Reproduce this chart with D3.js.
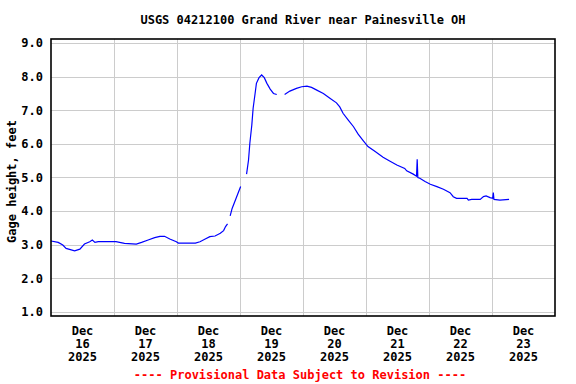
<!DOCTYPE html>
<html>
<head>
<meta charset="utf-8">
<script src="https://cdn.jsdelivr.net/npm/d3@7"></script>
<style>
  body { margin: 0; background: #fff; }
  text { font-family: "DejaVu Sans Mono", "Liberation Mono", monospace; font-weight: bold; }
</style>
</head>
<body>
<div id="chart"></div>
<script>
var width = 576,
	height = 384;

var title = "USGS 04212100 Grand River near Painesville OH";
var yLabel = "Gage height, feet";
var footer = "---- Provisional Data Subject to Revision ----";

// gage readings (null = gap in record)
var times = [
	"2025-12-16 00:00","2025-12-16 02:45","2025-12-16 04:30","2025-12-16 05:45","2025-12-16 09:00",
	"2025-12-16 11:00","2025-12-16 12:45","2025-12-16 14:45","2025-12-16 15:45","2025-12-16 16:45",
	"2025-12-16 18:00","2025-12-17 00:45","2025-12-17 04:00","2025-12-17 08:30","2025-12-17 10:30",
	"2025-12-17 13:00","2025-12-17 15:30","2025-12-17 17:30","2025-12-17 19:15","2025-12-17 21:15",
	"2025-12-17 23:45","2025-12-18 00:30","2025-12-18 07:00","2025-12-18 08:45","2025-12-18 10:45",
	"2025-12-18 12:30","2025-12-18 14:30","2025-12-18 16:30","2025-12-18 17:45","2025-12-18 18:30",
	"2025-12-18 19:15","2025-12-18 19:45","2025-12-18 20:15","2025-12-18 21:00","2025-12-18 22:00",
	"2025-12-18 23:15","2025-12-19 00:15","2025-12-19 01:15","2025-12-19 02:30","2025-12-19 03:15",
	"2025-12-19 03:45","2025-12-19 04:30","2025-12-19 05:00","2025-12-19 05:45","2025-12-19 06:15",
	"2025-12-19 07:15","2025-12-19 08:15","2025-12-19 09:15","2025-12-19 10:15","2025-12-19 11:30",
	"2025-12-19 12:45","2025-12-19 14:00","2025-12-19 15:30","2025-12-19 17:00","2025-12-19 19:00",
	"2025-12-19 21:30","2025-12-19 23:30","2025-12-20 01:30","2025-12-20 03:15","2025-12-20 05:15",
	"2025-12-20 07:45","2025-12-20 10:15","2025-12-20 12:45","2025-12-20 14:00","2025-12-20 15:15",
	"2025-12-20 17:15","2025-12-20 19:15","2025-12-20 21:00","2025-12-20 23:00","2025-12-21 00:45",
	"2025-12-21 03:30","2025-12-21 06:30","2025-12-21 09:00","2025-12-21 11:45","2025-12-21 14:45",
	"2025-12-21 15:30","2025-12-21 18:00","2025-12-21 19:15","2025-12-21 19:30","2025-12-21 19:45",
	"2025-12-21 20:30","2025-12-21 22:30","2025-12-22 00:30","2025-12-22 03:00","2025-12-22 05:30",
	"2025-12-22 08:00","2025-12-22 09:15","2025-12-22 10:30","2025-12-22 14:30","2025-12-22 15:00",
	"2025-12-22 16:15","2025-12-22 19:30","2025-12-22 20:45","2025-12-22 21:45","2025-12-22 23:15",
	"2025-12-23 00:15","2025-12-23 00:30","2025-12-23 00:45","2025-12-23 03:00","2025-12-23 06:30"
];
var gage = [
	3.11,3.07,2.99,2.89,2.82,
	2.87,3.02,3.09,3.14,3.07,
	3.09,3.09,3.04,3.02,3.07,
	3.14,3.21,3.25,3.25,3.17,
	3.09,3.05,3.05,3.09,3.17,
	3.24,3.26,3.34,3.42,3.54,
	3.62,null,3.86,4.08,4.28,
	4.53,4.73,null,5.10,5.52,
	6.02,6.56,7.06,7.50,7.80,
	7.97,8.05,7.97,7.80,7.63,
	7.50,7.47,null,7.47,7.57,
	7.65,7.70,7.72,7.68,7.60,
	7.50,7.36,7.22,7.10,6.91,
	6.71,6.51,6.29,6.09,5.92,
	5.77,5.60,5.49,5.37,5.27,
	5.20,5.10,5.04,5.54,5.00,
	4.98,4.88,4.80,4.73,4.65,
	4.55,4.43,4.38,4.38,4.33,
	4.35,4.35,4.43,4.45,4.40,
	4.38,4.55,4.35,4.33,4.35
];

var yTicks = [1, 2, 3, 4, 5, 6, 7, 8, 9];
var dayTicks = ["2025-12-16","2025-12-17","2025-12-18","2025-12-19","2025-12-20","2025-12-21","2025-12-22","2025-12-23"];

var parseTime = d3.timeParse("%Y-%m-%d %H:%M"),
	parseDay = d3.timeParse("%Y-%m-%d");

var data = times.map(function(t, i){ return {t: parseTime(t), v: gage[i]}; });

var pLeft = 51, pRight = 555, pTop = 39, pBottom = 316;

var x = d3.scaleTime()
	.domain([parseDay("2025-12-16"), parseDay("2025-12-24")])
	.range([pLeft, pRight]);
var y = d3.scaleLinear()
	.domain([0.88, 9.12])
	.range([pBottom, pTop]);

var svg = d3.select("#chart").append("svg")
	.attr("width", width)
	.attr("height", height);

// grid
svg.append("g").selectAll("line")
	.data(yTicks).enter().append("line")
	.attr("x1", pLeft).attr("x2", pRight)
	.attr("y1", function(d){ return Math.round(y(d)) + 0.5; })
	.attr("y2", function(d){ return Math.round(y(d)) + 0.5; })
	.attr("stroke", "#cccccc");

var midnights = d3.timeDay.range(parseDay("2025-12-17"), parseDay("2025-12-24"));
svg.append("g").selectAll("line")
	.data(midnights).enter().append("line")
	.attr("y1", pTop).attr("y2", pBottom)
	.attr("x1", function(d){ return Math.round(x(d)) + 0.5; })
	.attr("x2", function(d){ return Math.round(x(d)) + 0.5; })
	.attr("stroke", "#cccccc");

// data line
var line = d3.line()
	.defined(function(d){ return d.v !== null; })
	.x(function(d){ return x(d.t); })
	.y(function(d){ return y(d.v); });

svg.append("path")
	.datum(data)
	.attr("d", line)
	.attr("fill", "none")
	.attr("stroke", "#0000ff")
	.attr("stroke-width", 1.2);

// frame
svg.append("rect")
	.attr("x", pLeft).attr("y", pTop)
	.attr("width", pRight - pLeft).attr("height", pBottom - pTop)
	.attr("fill", "none")
	.attr("stroke", "#000")
	.attr("stroke-width", 1.6);

// y tick labels
svg.append("g").selectAll("text")
	.data(yTicks).enter().append("text")
	.attr("x", 43)
	.attr("y", function(d){ return y(d); })
	.attr("dy", "0.36em")
	.attr("text-anchor", "end")
	.attr("font-size", "12px")
	.text(function(d){ return d3.format(".1f")(d); });

// x labels, centred on noon of each day
var fmt = [d3.timeFormat("%b"), d3.timeFormat("%d"), d3.timeFormat("%Y")];
var xl = svg.append("g").selectAll("text")
	.data(dayTicks).enter().append("text")
	.attr("text-anchor", "middle")
	.attr("font-size", "12px")
	.attr("transform", function(d){
		return "translate(" + x(d3.timeHour.offset(parseDay(d), 12)) + ",0)";
	});
xl.selectAll("tspan")
	.data(function(d){ return fmt.map(function(f){ return f(parseDay(d)); }); })
	.enter().append("tspan")
	.attr("x", 0)
	.attr("y", function(d, i){ return 335 + i * 13; })
	.text(function(d){ return d; });

// title, axis label, footer
svg.append("text")
	.attr("x", (pLeft + pRight) / 2)
	.attr("y", 24)
	.attr("text-anchor", "middle")
	.attr("font-size", "12px")
	.text(title);

svg.append("text")
	.attr("transform", "translate(16," + ((pTop + pBottom) / 2 + 4) + ") rotate(-90)")
	.attr("text-anchor", "middle")
	.attr("font-size", "12px")
	.text(yLabel);

svg.append("text")
	.attr("x", 300)
	.attr("y", 379)
	.attr("text-anchor", "middle")
	.attr("font-size", "12px")
	.attr("fill", "#ff0000")
	.text(footer);
</script>
</body>
</html>
